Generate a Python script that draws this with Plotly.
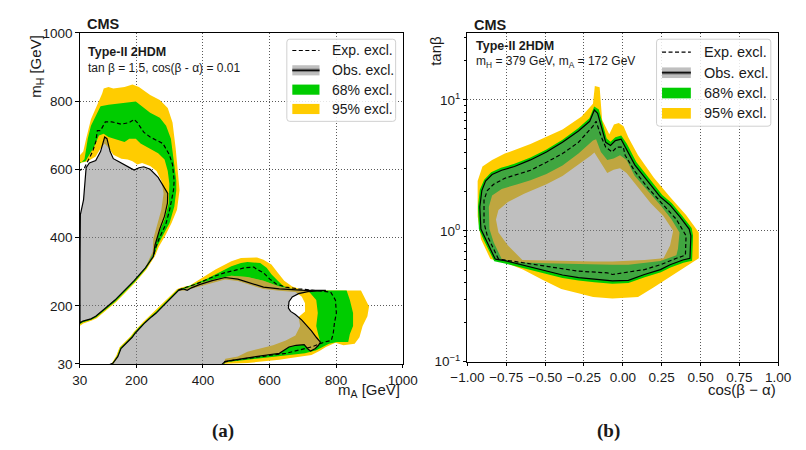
import math
import plotly.graph_objects as go

W, H = 806, 450

YELLOW = "#FFCC00"
GREEN = "#00CC00"
OBS_FILL = "rgba(128,128,128,0.5)"
FONT = "Liberation Sans, Arial, Helvetica, sans-serif"
TXT = "#1a1a1a"

# ---------------- (a) m_A / m_H plane ----------------
MASS_TICKS = [30, 200, 400, 600, 800, 1000]

# upper-left island (m_A, m_H) in GeV
a_obs = [(27, 148), (39.5, 155.7), (63.5, 162.2), (77.9, 169.9), (106.7, 193.4), (135.6, 217.2),
         (164.4, 245.6), (193.3, 274), (227, 311.7), (250.9, 344.9), (255.8, 377.8), (270.3, 425.2),
         (284.7, 462.9), (293.3, 500.9), (294.2, 529.3), (279.8, 552.8), (265.4, 576.4), (241.4, 600.2),
         (222.1, 607.6), (207.7, 604.8), (193.3, 598.2), (183.7, 603), (164.4, 614.4), (145.1, 623.8),
         (130.7, 631.4), (121.1, 652.1), (111.6, 689.9), (104.7, 694.7), (92.3, 652.1), (77.9, 625.7),
         (58.6, 618.9), (49, 604.8), (41.2, 510.3), (31.7, 467.7), (30.5, 300), (30.5, 150.9)]
a_exp = [(26, 595), (44.1, 604.8), (58.6, 633.1), (68.4, 652.1), (77.9, 680.5), (82.8, 713.7),
         (92.3, 713.7), (106.7, 739.2), (126, 739.2), (154.9, 732.4), (178.8, 737.2), (193.3, 746.6),
         (202.8, 737.2), (222.1, 708.9), (241.4, 694.7), (260.5, 685.3), (279.8, 675.7), (299.1, 642.8),
         (308.6, 614.4), (313.5, 567), (311.5, 538.9), (300, 482), (288.4, 439.4), (268.2, 396.8),
         (256.7, 368.4), (252.4, 348.6)]
a_y95_out = [(14, 623.8), (40.4, 652.1), (49, 689.9), (63.5, 746.6), (82.8, 789.2), (97.2, 822.4),
             (101.8, 836.6), (116.2, 841.4), (130.7, 836.6), (164.4, 841.4), (188.3, 848.8), (207.7, 841.4),
             (241.4, 817.5), (270.3, 803.3), (294.2, 779.8), (308.6, 737.2), (318.1, 661.5), (325, 595),
             (329.7, 538.7), (322, 482), (306, 444), (287, 406), (267, 373), (256, 346), (230.7, 307.5),
             (196.1, 267.7), (167.3, 239.4), (138.5, 211), (109.6, 188.3), (80.8, 164.2), (66.3, 157.1),
             (40.4, 148.6), (26, 138.7), (14, 140)]
a_g68_out = [(20, 606.8), (44.1, 629.5), (49, 652.1), (53.9, 689.9), (63.5, 727.9), (77.9, 756.3),
             (92.3, 784.6), (116.2, 789.2), (198.2, 798.8), (212.6, 789.2), (241.4, 765.6), (270.3, 751.4),
             (289.3, 727.9), (303.7, 689.9), (312, 633.1), (320, 567), (320, 538.7), (314, 491), (300, 444),
             (280, 406), (264, 378), (254, 349), (229.3, 309.7), (195.3, 270.6), (166.4, 242.2),
             (137.6, 213.8), (108.7, 191.1), (79.3, 167), (64.3, 159.4), (39.5, 152), (26, 144.3), (20, 145)]
a_g68_in = [(14.4, 618.1), (47, 623.8), (58.6, 642.8), (73, 666.3), (87.4, 699.5), (101.8, 704),
            (116.2, 694.7), (145.1, 685.3), (164.4, 680.5), (178.8, 689.9), (198.2, 689.9), (212.6, 675.7),
            (241.4, 661.5), (265.4, 647.3), (284.7, 628.6), (294.2, 595.4), (299.1, 557.7), (299.1, 538.7),
            (297.1, 500.9), (284.7, 453.6), (270.3, 420.4), (258.7, 387.5), (252.9, 359.1), (227, 311.7),
            (193.3, 274), (164.4, 245.6), (135.6, 217.2), (106.7, 193.4), (77.9, 169.9), (63.5, 162.2),
            (39.5, 155.7), (20.2, 150)]
a_y95_in = [(14.4, 615.3), (53.9, 623.8), (77.9, 638), (92.3, 661.5), (104.7, 675.7), (116.2, 663.5),
            (130.7, 642.8), (154.9, 631.4), (173.9, 628.6), (188.3, 623.8), (202.8, 614.4), (217.2, 618.9),
            (241.4, 609.6), (260.5, 595.4), (274.9, 567), (281.8, 529.3), (274.9, 481.9), (260.5, 434.6),
            (250.9, 396.8), (248.9, 359.1), (226.5, 312.5), (192.8, 275), (163.9, 246.5), (135, 218),
            (106, 194.5), (77.5, 171), (63, 163.3), (39, 156.8), (20.2, 151)]

# lower island
b_obs_line = [(101, 20), (129.8, 32.8), (144.2, 51.6), (153.7, 75.4), (163.5, 84.8), (173.1, 94.1),
              (187.5, 108.3), (197, 120.8), (211.4, 136.7), (225.8, 150.9), (245.2, 167.9), (259.6, 179.2),
              (274, 193.4), (293.3, 212.4), (312.4, 231.4), (326.8, 245.6), (341.2, 250.1), (352.8, 245.6),
              (365.4, 253), (389.4, 262.6), (427.7, 274), (466.4, 283.3), (504.8, 278.5), (533.6, 269.2),
              (562.5, 259.8), (581.8, 255), (629.6, 250.1), (677.8, 247.3), (706.7, 245.6), (769.3, 245.6),
              (715.3, 242.2), (687.3, 236), (668.3, 226.6), (658.5, 212.4), (656.8, 193.4), (663.4, 184),
              (677.8, 174.7), (697.1, 158.5), (711.6, 143.5), (726, 127.3), (740.4, 108.3), (752.8, 94.1),
              (747.3, 84.8), (737.7, 75.4), (723.3, 67.7), (713.8, 75.4), (704, 86.7), (679.8, 84.8),
              (658.5, 79.9), (639.4, 67.7), (629.6, 61.2), (591.3, 56.4), (562.5, 51.6), (533.6, 47),
              (504.8, 43.6), (467.3, 37.9), (447.1, 20)]
b_obs_fill = [(101, 20), (129.8, 32.8), (144.2, 51.6), (153.7, 75.4), (163.5, 84.8), (173.1, 94.1),
              (187.5, 108.3), (197, 120.8), (211.4, 136.7), (225.8, 150.9), (245.2, 167.9), (259.6, 179.2),
              (274, 193.4), (293.3, 212.4), (312.4, 231.4), (326.8, 245.6), (346.1, 250.7), (389.4, 266.3),
              (437.6, 279.1), (485.4, 288.2), (533.6, 284.8), (581.8, 274), (629.6, 257), (677.8, 248.4),
              (706.7, 245.6), (715.3, 242.2), (687.3, 236), (668.3, 226.6), (658.5, 212.4), (656.8, 193.4),
              (663.4, 184), (677.8, 174.7), (697.1, 158.5), (711.6, 143.5), (726, 127.3), (740.4, 108.3),
              (752.8, 94.1), (747.3, 84.8), (737.7, 75.4), (723.3, 67.7), (713.8, 75.4), (704, 86.7),
              (679.8, 84.8), (658.5, 79.9), (639.4, 67.7), (629.6, 61.2), (591.3, 56.4), (562.5, 51.6),
              (533.6, 47), (504.8, 43.6), (467.3, 37.9), (447.1, 20)]
b_exp = [(326.8, 247.3), (379.9, 264.3), (437.6, 288.2), (466.4, 297.5), (495.2, 304), (524.1, 311.7),
         (552.9, 313.7), (562.5, 306.9), (581.8, 297.5), (600.8, 278.5), (620.1, 264.3), (648.9, 255),
         (687.3, 250.1), (735.5, 245.6), (783.6, 240.8), (798.1, 217.2), (800.9, 179.2), (795.2, 150.9),
         (791.2, 117.9), (785.4, 98.9), (764.3, 94.1), (726, 79.9), (687.3, 70.6), (648.9, 61.2),
         (610.6, 56.4), (571.9, 51.6), (533.6, 47), (490.3, 40.8), (461.5, 35.1)]
b_y95_out = [(115.4, 14.1), (124, 30.9), (139.9, 55), (149.4, 79.1), (159.2, 88.7), (168.7, 98.1),
             (183.2, 112.3), (192.7, 124.5), (207.1, 140.6), (221.5, 154.8), (240.8, 171.8), (255.3, 183.2),
             (269.7, 197.4), (289, 216.4), (308.4, 235.4), (322.5, 249.6), (337.4, 255), (360.5, 259.8),
             (389.4, 278.5), (437.6, 306.9), (485.4, 330.7), (514.3, 340.1), (562.5, 342.1), (581.8, 335.3),
             (605.7, 321.1), (625, 297.5), (644.1, 274), (668.3, 257), (697.1, 247.3), (711.6, 245.6),
             (874.8, 245.6), (884.6, 226.6), (899, 198.2), (894.1, 169.9), (879.7, 141.5), (870.2, 108.3),
             (855.8, 89.6), (822.1, 84.8), (798.1, 92.4), (769.3, 79.9), (750, 67.7), (726, 56.4),
             (697.1, 51.6), (658.5, 47), (629.6, 42.2), (591.3, 37.4), (533.6, 32.8), (466.4, 30.9),
             (458.6, 14.1)]
b_g68_out = [(115.4, 14.1), (125.5, 30.9), (142.6, 53.5), (151.7, 77.4), (161.6, 87), (171, 96.1),
             (185.5, 110.3), (195, 122.8), (209.4, 138.7), (223.8, 152.8), (243.1, 169.9), (257.6, 181.2),
             (272, 195.4), (291.3, 214.4), (310.4, 233.4), (324.8, 247.6), (340.4, 252.1), (370, 262.6),
             (408.7, 278.5), (447.1, 297.5), (485.4, 316.5), (514.3, 325.9), (533.6, 328.7), (572, 325.9),
             (591.3, 311.7), (605.7, 292.7), (625, 274), (639.5, 259.8), (658.5, 250.1), (711.6, 245.6),
             (831.6, 245.6), (841.4, 217.2), (851, 179.2), (851, 141.5), (841.4, 117.9), (836.5, 94.1),
             (802.7, 94.1), (778.8, 89.6), (759.4, 79.9), (740.4, 70.6), (706.7, 61.2), (668.3, 56.4),
             (629.6, 51.6), (581.8, 47), (533.6, 42.2), (466.4, 35.1), (458.6, 14.1)]
b_g68_in = [(126.9, 14), (130.7, 32.8), (144.2, 51.6), (153.7, 75.4), (163.5, 84.8), (173.1, 94.1),
            (187.5, 108.3), (197, 120.8), (211.4, 136.7), (225.8, 150.9), (245.2, 167.9), (259.6, 179.2),
            (274, 193.4), (293.3, 212.4), (312.4, 231.4), (326.8, 245.6), (346.1, 250.7), (389.4, 266.3),
            (437.6, 279.1), (485.4, 288.2), (533.6, 284.8), (581.8, 274), (629.6, 257), (677.8, 248.4),
            (716.2, 244.7), (740.4, 217.2), (745, 179.2), (740.4, 141.5), (747.1, 113.1), (752.8, 94.1),
            (747.3, 84.8), (737.7, 75.4), (723.3, 67.7), (713.8, 75.4), (704, 86.7), (679.8, 84.8),
            (658.5, 79.9), (639.4, 67.7), (629.6, 61.2), (591.3, 56.4), (562.5, 51.6), (533.6, 47),
            (504.8, 43.6), (467.3, 37.9), (452.9, 14)]
b_y95_in = [(128.5, 14.1), (132.5, 32.3), (144.6, 51.2), (154.1, 75), (164, 84.3), (173.6, 93.6),
            (188, 107.8), (197.5, 120.3), (212, 136.2), (226.3, 150.4), (245.7, 167.4), (260, 178.7),
            (274.5, 192.9), (293.8, 211.9), (312.9, 230.9), (327.3, 244.6), (346.1, 245), (389.4, 257),
            (427.7, 268.3), (466.4, 277.7), (504.8, 272.8), (533.6, 263.5), (562.5, 254.1), (581.8, 249.3),
            (629.6, 244.5), (677.8, 240.8), (697.1, 226.6), (706.7, 207.6), (706.7, 184), (687.3, 167.9),
            (692.1, 141.5), (677.8, 113.1), (648.9, 98.9), (610.6, 84.8), (571.9, 75.4), (533.6, 65.7),
            (504.8, 52.1), (467.3, 45), (452.9, 14.1)]

# ---------------- (b) cos(β−α) / tanβ plane ----------------
COS_TICKS = [-1.0, -0.75, -0.5, -0.25, 0.0, 0.25, 0.5, 0.75, 1.0]
TANB_TICKS = [0.1, 1, 10]
TANB_LABELS = ["10<sup>\u22121</sup>", "10<sup>0</sup>", "10<sup>1</sup>"]
TANB_MINOR = [0.2, 0.3, 0.4, 0.5, 0.6, 0.7, 0.8, 0.9, 2, 3, 4, 5, 6, 7, 8, 9, 20, 30]

c_obs = [(-0.821, 0.608), (-0.883, 0.865), (-0.913, 1.03), (-0.920, 1.52), (-0.907, 2.03), (-0.883, 2.40),
         (-0.841, 2.69), (-0.779, 2.90), (-0.697, 3.10), (-0.594, 3.48), (-0.491, 4.0), (-0.388, 4.75),
         (-0.285, 5.79), (-0.213, 6.87), (-0.183, 8.36), (-0.162, 7.91), (-0.141, 6.31), (-0.110, 4.75),
         (-0.079, 4.49), (-0.048, 4.89), (-0.011, 5.02), (0.015, 4.36), (0.077, 3.19), (0.160, 2.40),
         (0.242, 1.81), (0.304, 1.57), (0.365, 1.29), (0.427, 1.03), (0.438, 0.916), (0.432, 0.616),
         (0.386, 0.598), (0.304, 0.550), (0.242, 0.505), (0.139, 0.463), (0.036, 0.418), (-0.067, 0.414),
         (-0.183, 0.426), (-0.285, 0.438), (-0.388, 0.459), (-0.491, 0.491), (-0.594, 0.526),
         (-0.697, 0.565), (-0.759, 0.592)]
c_exp = [(-0.80, 0.608), (-0.841, 0.772), (-0.872, 0.916), (-0.893, 1.15), (-0.893, 1.71), (-0.872, 2.03),
         (-0.831, 2.27), (-0.759, 2.52), (-0.677, 2.69), (-0.594, 2.90), (-0.491, 3.34), (-0.388, 3.89),
         (-0.285, 4.75), (-0.192, 6.31), (-0.172, 6.87), (-0.141, 5.32), (-0.110, 4.36), (-0.069, 4.0),
         (-0.038, 4.36), (0.003, 4.36), (0.015, 3.78), (0.077, 2.85), (0.160, 2.14), (0.242, 1.66),
         (0.345, 1.22), (0.407, 0.916), (0.403, 0.651), (0.345, 0.616), (0.242, 0.55), (0.139, 0.505),
         (0.015, 0.477), (-0.067, 0.463), (-0.10, 0.477), (-0.285, 0.491), (-0.491, 0.535), (-0.697, 0.582)]
c_y95_out = [(-0.852, 0.608), (-0.913, 0.865), (-0.934, 1.29), (-0.934, 2.40), (-0.903, 3.10),
             (-0.841, 3.48), (-0.759, 3.89), (-0.594, 4.61), (-0.388, 5.95), (-0.265, 7.47), (-0.192, 9.37),
             (-0.180, 12.8), (-0.149, 12.5), (-0.133, 7.05), (-0.087, 5.47), (-0.057, 6.48), (-0.026, 6.67),
             (0.005, 6.31), (0.036, 5.17), (0.098, 3.78), (0.200, 2.54), (0.304, 1.81), (0.407, 1.32),
             (0.489, 0.97), (0.489, 0.616), (0.427, 0.55), (0.345, 0.477), (0.200, 0.37), (0.098, 0.312),
             (-0.067, 0.303), (-0.191, 0.312), (-0.273, 0.33), (-0.396, 0.359), (-0.52, 0.425),
             (-0.643, 0.505), (-0.747, 0.565)]
c_g68_out = [(-0.827, 0.585), (-0.895, 0.851), (-0.926, 1.03), (-0.932, 1.52), (-0.920, 2.06),
             (-0.892, 2.46), (-0.847, 2.80), (-0.784, 3.03), (-0.697, 3.25), (-0.594, 3.63), (-0.491, 4.19),
             (-0.388, 4.97), (-0.285, 6.10), (-0.215, 7.26), (-0.184, 8.91), (-0.154, 8.47), (-0.131, 6.67),
             (-0.104, 5.08), (-0.079, 4.79), (-0.048, 5.19), (-0.010, 5.35), (0.026, 4.62), (0.087, 3.35),
             (0.171, 2.51), (0.254, 1.88), (0.316, 1.62), (0.378, 1.32), (0.443, 1.05), (0.452, 0.916),
             (0.446, 0.59), (0.39, 0.57), (0.307, 0.524), (0.245, 0.481), (0.141, 0.442), (0.036, 0.399),
             (-0.067, 0.394), (-0.183, 0.404), (-0.285, 0.416), (-0.388, 0.436), (-0.491, 0.467),
             (-0.594, 0.499), (-0.697, 0.537), (-0.759, 0.562)]
c_g68_in = [(-0.779, 0.608), (-0.831, 0.818), (-0.858, 1.03), (-0.862, 1.52), (-0.841, 1.86), (-0.779, 2.09),
            (-0.677, 2.27), (-0.594, 2.43), (-0.491, 2.72), (-0.388, 3.15), (-0.285, 3.89), (-0.192, 4.89),
            (-0.172, 5.01), (-0.141, 4.0), (-0.10, 3.48), (-0.059, 3.57), (-0.018, 3.78), (0.024, 3.48),
            (0.077, 2.62), (0.160, 2.03), (0.242, 1.57), (0.314, 1.22), (0.365, 0.97), (0.355, 0.73),
            (0.345, 0.651), (0.242, 0.588), (0.036, 0.55), (-0.067, 0.55), (-0.285, 0.556), (-0.491, 0.565),
            (-0.697, 0.575)]
c_y95_in = [(-0.646, 0.598), (-0.739, 0.772), (-0.80, 0.97), (-0.816, 1.22), (-0.80, 1.44), (-0.739, 1.66),
            (-0.635, 1.92), (-0.491, 2.27), (-0.388, 2.62), (-0.285, 3.19), (-0.203, 3.78), (-0.183, 3.96),
            (-0.141, 3.28), (-0.10, 2.77), (-0.059, 2.93), (-0.018, 3.01), (0.024, 2.77), (0.098, 2.14),
            (0.18, 1.62), (0.262, 1.29), (0.324, 1.0), (0.304, 0.772), (0.262, 0.616), (0.139, 0.598),
            (-0.067, 0.582), (-0.183, 0.582), (-0.491, 0.588)]


# ---------------- helpers ----------------
def signed_area(pts, logy):
    s = 0.0
    n = len(pts)
    for i in range(n):
        x1, y1 = pts[i]
        x2, y2 = pts[(i + 1) % n]
        if logy:
            y1, y2 = math.log10(y1), math.log10(y2)
        s += x1 * y2 - x2 * y1
    return s / 2


def oriented(pts, ccw, logy):
    a = signed_area(pts, logy)
    return list(pts) if (a > 0) == ccw else list(pts)[::-1]


def ring(outer, inner, logy=False):
    """Outer contour with the inner contour cut out (opposite winding)."""
    o = oriented(outer, True, logy)
    i = oriented(inner, False, logy)
    o = o + [o[0]]
    i = i + [i[0]]
    xs = [p[0] for p in o] + [None] + [p[0] for p in i]
    ys = [p[1] for p in o] + [None] + [p[1] for p in i]
    return xs, ys


def xy(pts, close=False):
    pts = list(pts) + ([pts[0]] if close else [])
    return [p[0] for p in pts], [p[1] for p in pts]


fig = go.Figure()


def add_fill(xs, ys, color, axes):
    fig.add_trace(go.Scatter(x=xs, y=ys, mode="lines", fill="toself", fillcolor=color,
                             line=dict(width=0, color=color), hoverinfo="skip",
                             xaxis=axes[0], yaxis=axes[1]))


def add_line(xs, ys, axes, dash=None):
    fig.add_trace(go.Scatter(x=xs, y=ys, mode="lines",
                             line=dict(width=1.2, color="black", dash=dash),
                             hoverinfo="skip", xaxis=axes[0], yaxis=axes[1]))


A = ("x", "y")
B = ("x2", "y2")
DASH = "4px,2.5px"

# panel (a)
for outer, inner in [(a_y95_out, a_y95_in), (b_y95_out, b_y95_in)]:
    add_fill(*ring(outer, inner), YELLOW, A)
for outer, inner in [(a_g68_out, a_g68_in), (b_g68_out, b_g68_in)]:
    add_fill(*ring(outer, inner), GREEN, A)
add_fill(*xy(a_obs, True), OBS_FILL, A)
add_fill(*xy(b_obs_fill, True), OBS_FILL, A)
add_line(*xy(a_obs, True), A)
add_line(*xy(b_obs_line, True), A)
add_line(*xy(a_exp), A, dash=DASH)
add_line(*xy(b_exp), A, dash=DASH)

# panel (b)
add_fill(*ring(c_y95_out, c_y95_in, True), YELLOW, B)
add_fill(*ring(c_g68_out, c_g68_in, True), GREEN, B)
add_fill(*xy(c_obs, True), OBS_FILL, B)
add_line(*xy(c_obs, True), B)
add_line(*xy(c_exp, True), B, dash=DASH)


# ---------------- layout (positions in figure pixels) ----------------
def px(x):
    return x / W


def py(y):
    return 1 - y / H


tickfont = dict(family=FONT, size=13.5, color=TXT)
common = dict(showline=True, mirror=True, linecolor="black", linewidth=1, ticks="outside",
              ticklen=3.5, tickcolor="black", showgrid=True, gridcolor="rgba(60,60,60,0.85)",
              griddash="1px,2px", gridwidth=1, zeroline=False, tickfont=tickfont)

fig.update_layout(
    autosize=True, margin=dict(l=0, r=0, t=0, b=0), showlegend=False,
    plot_bgcolor="white", paper_bgcolor="white",
    xaxis=dict(domain=[px(65.4), px(401.6)], range=[30, 1000], tickvals=MASS_TICKS,
               anchor="y", **common),
    yaxis=dict(domain=[py(369.3), py(26.7)], range=[30, 1000], tickvals=MASS_TICKS,
               anchor="x", **common),
    xaxis2=dict(domain=[px(469), px(792.7)], range=[-1, 1], tickvals=COS_TICKS,
                tickformat=".2f", anchor="y2", **common),
    yaxis2=dict(domain=[py(366.8), py(27.3)], type="log", range=[-1, 1.509], tickvals=TANB_TICKS,
                ticktext=TANB_LABELS, anchor="x2",
                minor=dict(tickvals=TANB_MINOR, ticks="outside", ticklen=2, tickcolor="black",
                           showgrid=False),
                **common),
)

ann = []


def text(x, y, s, size, xanchor="left", yanchor="middle", bold=False, angle=0, family=FONT):
    ann.append(dict(x=px(x), y=py(y), xref="paper", yref="paper", text=f"<b>{s}</b>" if bold else s,
                    showarrow=False, xanchor=xanchor, yanchor=yanchor, textangle=angle,
                    font=dict(family=family, size=size, color=TXT)))


SERIF = "Liberation Serif, Times New Roman, serif"

# panel (a) labels
text(70.5, 18, "CMS", 14.5, bold=True)
text(72, 46.5, "Type-II 2HDM", 12.5, bold=True)
text(72, 63.5, "tan \u03b2 = 1.5, cos(\u03b2 - \u03b1) = 0.01", 12)
text(20, 27, "m<sub>H</sub> [GeV]", 15, xanchor="center", yanchor="top", angle=-90)
text(401, 397, "m<sub>A</sub> [GeV]", 15, xanchor="right")
text(214, 438.5, "(a)", 19, xanchor="center", bold=True, family=SERIF)

# panel (b) labels
text(474, 18.5, "CMS", 14.5, bold=True)
text(476, 40, "Type-II 2HDM", 12.5, bold=True)
text(476, 57, "m<sub>H</sub> = 379 GeV, m<sub>A</sub> = 172 GeV", 12)
text(435, 28, "tan\u03b2", 15, xanchor="center", yanchor="top", angle=-90)
text(792.5, 396, "cos(\u03b2 \u2212 \u03b1)", 15, xanchor="right")
text(616, 438.5, "(b)", 19, xanchor="center", bold=True, family=SERIF)

shapes = []


def rounded_box(x0, y0, x1, y1, r=3):
    X0, X1 = px(x0), px(x1)
    Y0, Y1 = py(y0), py(y1)
    rx, ry = r / W, r / H
    path = (f"M {X0 + rx},{Y0} L {X1 - rx},{Y0} Q {X1},{Y0} {X1},{Y0 - ry} "
            f"L {X1},{Y1 + ry} Q {X1},{Y1} {X1 - rx},{Y1} L {X0 + rx},{Y1} Q {X0},{Y1} {X0},{Y1 + ry} "
            f"L {X0},{Y0 - ry} Q {X0},{Y0} {X0 + rx},{Y0} Z")
    shapes.append(dict(type="path", path=path, xref="paper", yref="paper",
                       fillcolor="rgba(255,255,255,0.85)", line=dict(color="#d0d0d0", width=1)))


def rect(x0, y0, x1, y1, color):
    shapes.append(dict(type="rect", xref="paper", yref="paper", x0=px(x0), x1=px(x1), y0=py(y1), y1=py(y0),
                       fillcolor=color, line=dict(width=0)))


def hline(x0, x1, y, color="black", width=1.2, dash=None):
    shapes.append(dict(type="line", xref="paper", yref="paper", x0=px(x0), x1=px(x1), y0=py(y), y1=py(y),
                       line=dict(color=color, width=width, dash=dash)))


LEGEND_LABELS = ["Exp. excl.", "Obs. excl.", "68% excl.", "95% excl."]


def legend(box, x0, x1, xt, rows, h, size):
    rounded_box(*box)
    hline(x0, x1, rows[0], dash=DASH)
    rect(x0, rows[1] - h / 2, x1, rows[1] + h / 2, OBS_FILL)
    hline(x0, x1, rows[1], color="rgba(110,110,110,0.8)", width=3.5)
    hline(x0, x1, rows[1])
    rect(x0, rows[2] - h / 2, x1, rows[2] + h / 2, GREEN)
    rect(x0, rows[3] - h / 2, x1, rows[3] + h / 2, YELLOW)
    for yy, lab in zip(rows, LEGEND_LABELS):
        text(xt, yy, lab, size)


legend((281, 33.3, 394.3, 118.3), 286.7, 315, 326, [45, 65.5, 85.5, 105.5], 10.5, 14)
legend((666, 33.3, 785, 123.3), 671.7, 701.7, 713, [46.7, 68, 89, 110], 11, 14.5)

fig.update_layout(annotations=ann, shapes=shapes)
# the plot div is pinned to the top-left corner of the page at the window size
fig.write_html("out.html", default_width=f"{W}px; position:absolute; left:0px; top:0px",
               default_height=f"{H}px")
